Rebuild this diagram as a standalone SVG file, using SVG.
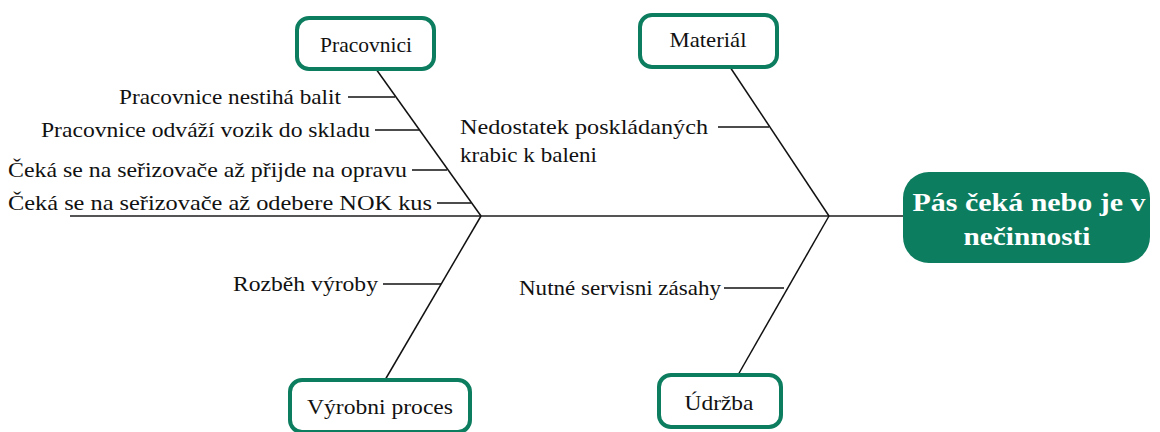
<svg xmlns="http://www.w3.org/2000/svg" width="1160" height="432" viewBox="0 0 1160 432">
  <style>
    .lbl { font-family: "Liberation Serif", "Times New Roman", "DejaVu Serif", serif; font-size: 22px; fill: #111; }
    .cat { font-family: "Liberation Serif", "Times New Roman", "DejaVu Serif", serif; font-size: 22px; fill: #111; text-anchor: middle; }
    .box { fill: #ffffff; stroke: #0d7d60; stroke-width: 4; }
    .bone { stroke: #111; stroke-width: 1.5; fill: none; }
    .twig { stroke: #111; stroke-width: 1.5; }
    .spine { stroke: #555; stroke-width: 2; }
    .head { fill: #0d7d60; }
    .headtxt { font-family: "Liberation Serif", "Times New Roman", "DejaVu Serif", serif; font-size: 26px; font-weight: bold; fill: #ffffff; text-anchor: middle; }
  </style>
  <rect width="1160" height="432" fill="#ffffff"/>

  <!-- spine, bones and cause branches -->
  <g id="connectors">
    <line class="spine" x1="70" y1="216" x2="903" y2="216"/>
    <line class="bone" x1="376" y1="69" x2="481" y2="216"/>
    <line class="bone" x1="730" y1="67" x2="829" y2="216"/>
    <line class="bone" x1="481" y1="216" x2="385" y2="380"/>
    <line class="bone" x1="829" y1="216" x2="738" y2="375"/>
    <line class="twig" x1="348" y1="97" x2="395" y2="97"/>
    <line class="twig" x1="375" y1="130" x2="419" y2="130"/>
    <line class="twig" x1="412" y1="170" x2="447" y2="170"/>
    <line class="twig" x1="437" y1="203" x2="471" y2="203"/>
    <line class="twig" x1="718" y1="127" x2="769" y2="127"/>
    <line class="twig" x1="383" y1="284" x2="441" y2="284"/>
    <line class="twig" x1="724" y1="288" x2="784" y2="288"/>
  </g>

  <!-- cause labels, widths fixed so the layout holds with any serif -->
  <g id="causes">
    <text class="lbl" x="341" y="104" text-anchor="end" textLength="222" lengthAdjust="spacingAndGlyphs">Pracovnice nestihá balit</text>
    <text class="lbl" x="370" y="137" text-anchor="end" textLength="329" lengthAdjust="spacingAndGlyphs">Pracovnice odváží vozik do skladu</text>
    <text class="lbl" x="407" y="177" text-anchor="end" textLength="399" lengthAdjust="spacingAndGlyphs">Čeká se na seřizovače až přijde na opravu</text>
    <text class="lbl" x="432" y="210" text-anchor="end" textLength="424" lengthAdjust="spacingAndGlyphs">Čeká se na seřizovače až odebere NOK kus</text>
    <text class="lbl" x="460" y="134" textLength="248" lengthAdjust="spacingAndGlyphs">Nedostatek poskládaných</text>
    <text class="lbl" x="460" y="162" textLength="137" lengthAdjust="spacingAndGlyphs">krabic k baleni</text>
    <text class="lbl" x="378" y="291" text-anchor="end" textLength="145" lengthAdjust="spacingAndGlyphs">Rozběh výroby</text>
    <text class="lbl" x="721" y="295" text-anchor="end" textLength="202" lengthAdjust="spacingAndGlyphs">Nutné servisni zásahy</text>
  </g>

  <g id="pracovnici">
    <rect class="box" x="297" y="18" width="137" height="51" rx="12"/>
    <text class="cat" x="366" y="52" textLength="92" lengthAdjust="spacingAndGlyphs">Pracovnici</text>
  </g>

  <g id="material">
    <rect class="box" x="640" y="15" width="137" height="52" rx="12"/>
    <text class="cat" x="708" y="47" textLength="77" lengthAdjust="spacingAndGlyphs">Materiál</text>
  </g>

  <g id="vyrobni-proces">
    <rect class="box" x="290" y="380" width="180" height="52" rx="12"/>
    <text class="cat" x="380" y="414" textLength="146" lengthAdjust="spacingAndGlyphs">Výrobni proces</text>
  </g>

  <g id="udrzba">
    <rect class="box" x="659" y="375" width="122" height="52" rx="12"/>
    <text class="cat" x="719" y="410" textLength="69" lengthAdjust="spacingAndGlyphs">Údržba</text>
  </g>

  <g id="problem">
    <rect class="head" x="903" y="172" width="247" height="91" rx="26"/>
    <text class="headtxt" x="1029" y="211" textLength="233" lengthAdjust="spacingAndGlyphs">Pás čeká nebo je v</text>
    <text class="headtxt" x="1027" y="245" textLength="127" lengthAdjust="spacingAndGlyphs">nečinnosti</text>
  </g>
</svg>
